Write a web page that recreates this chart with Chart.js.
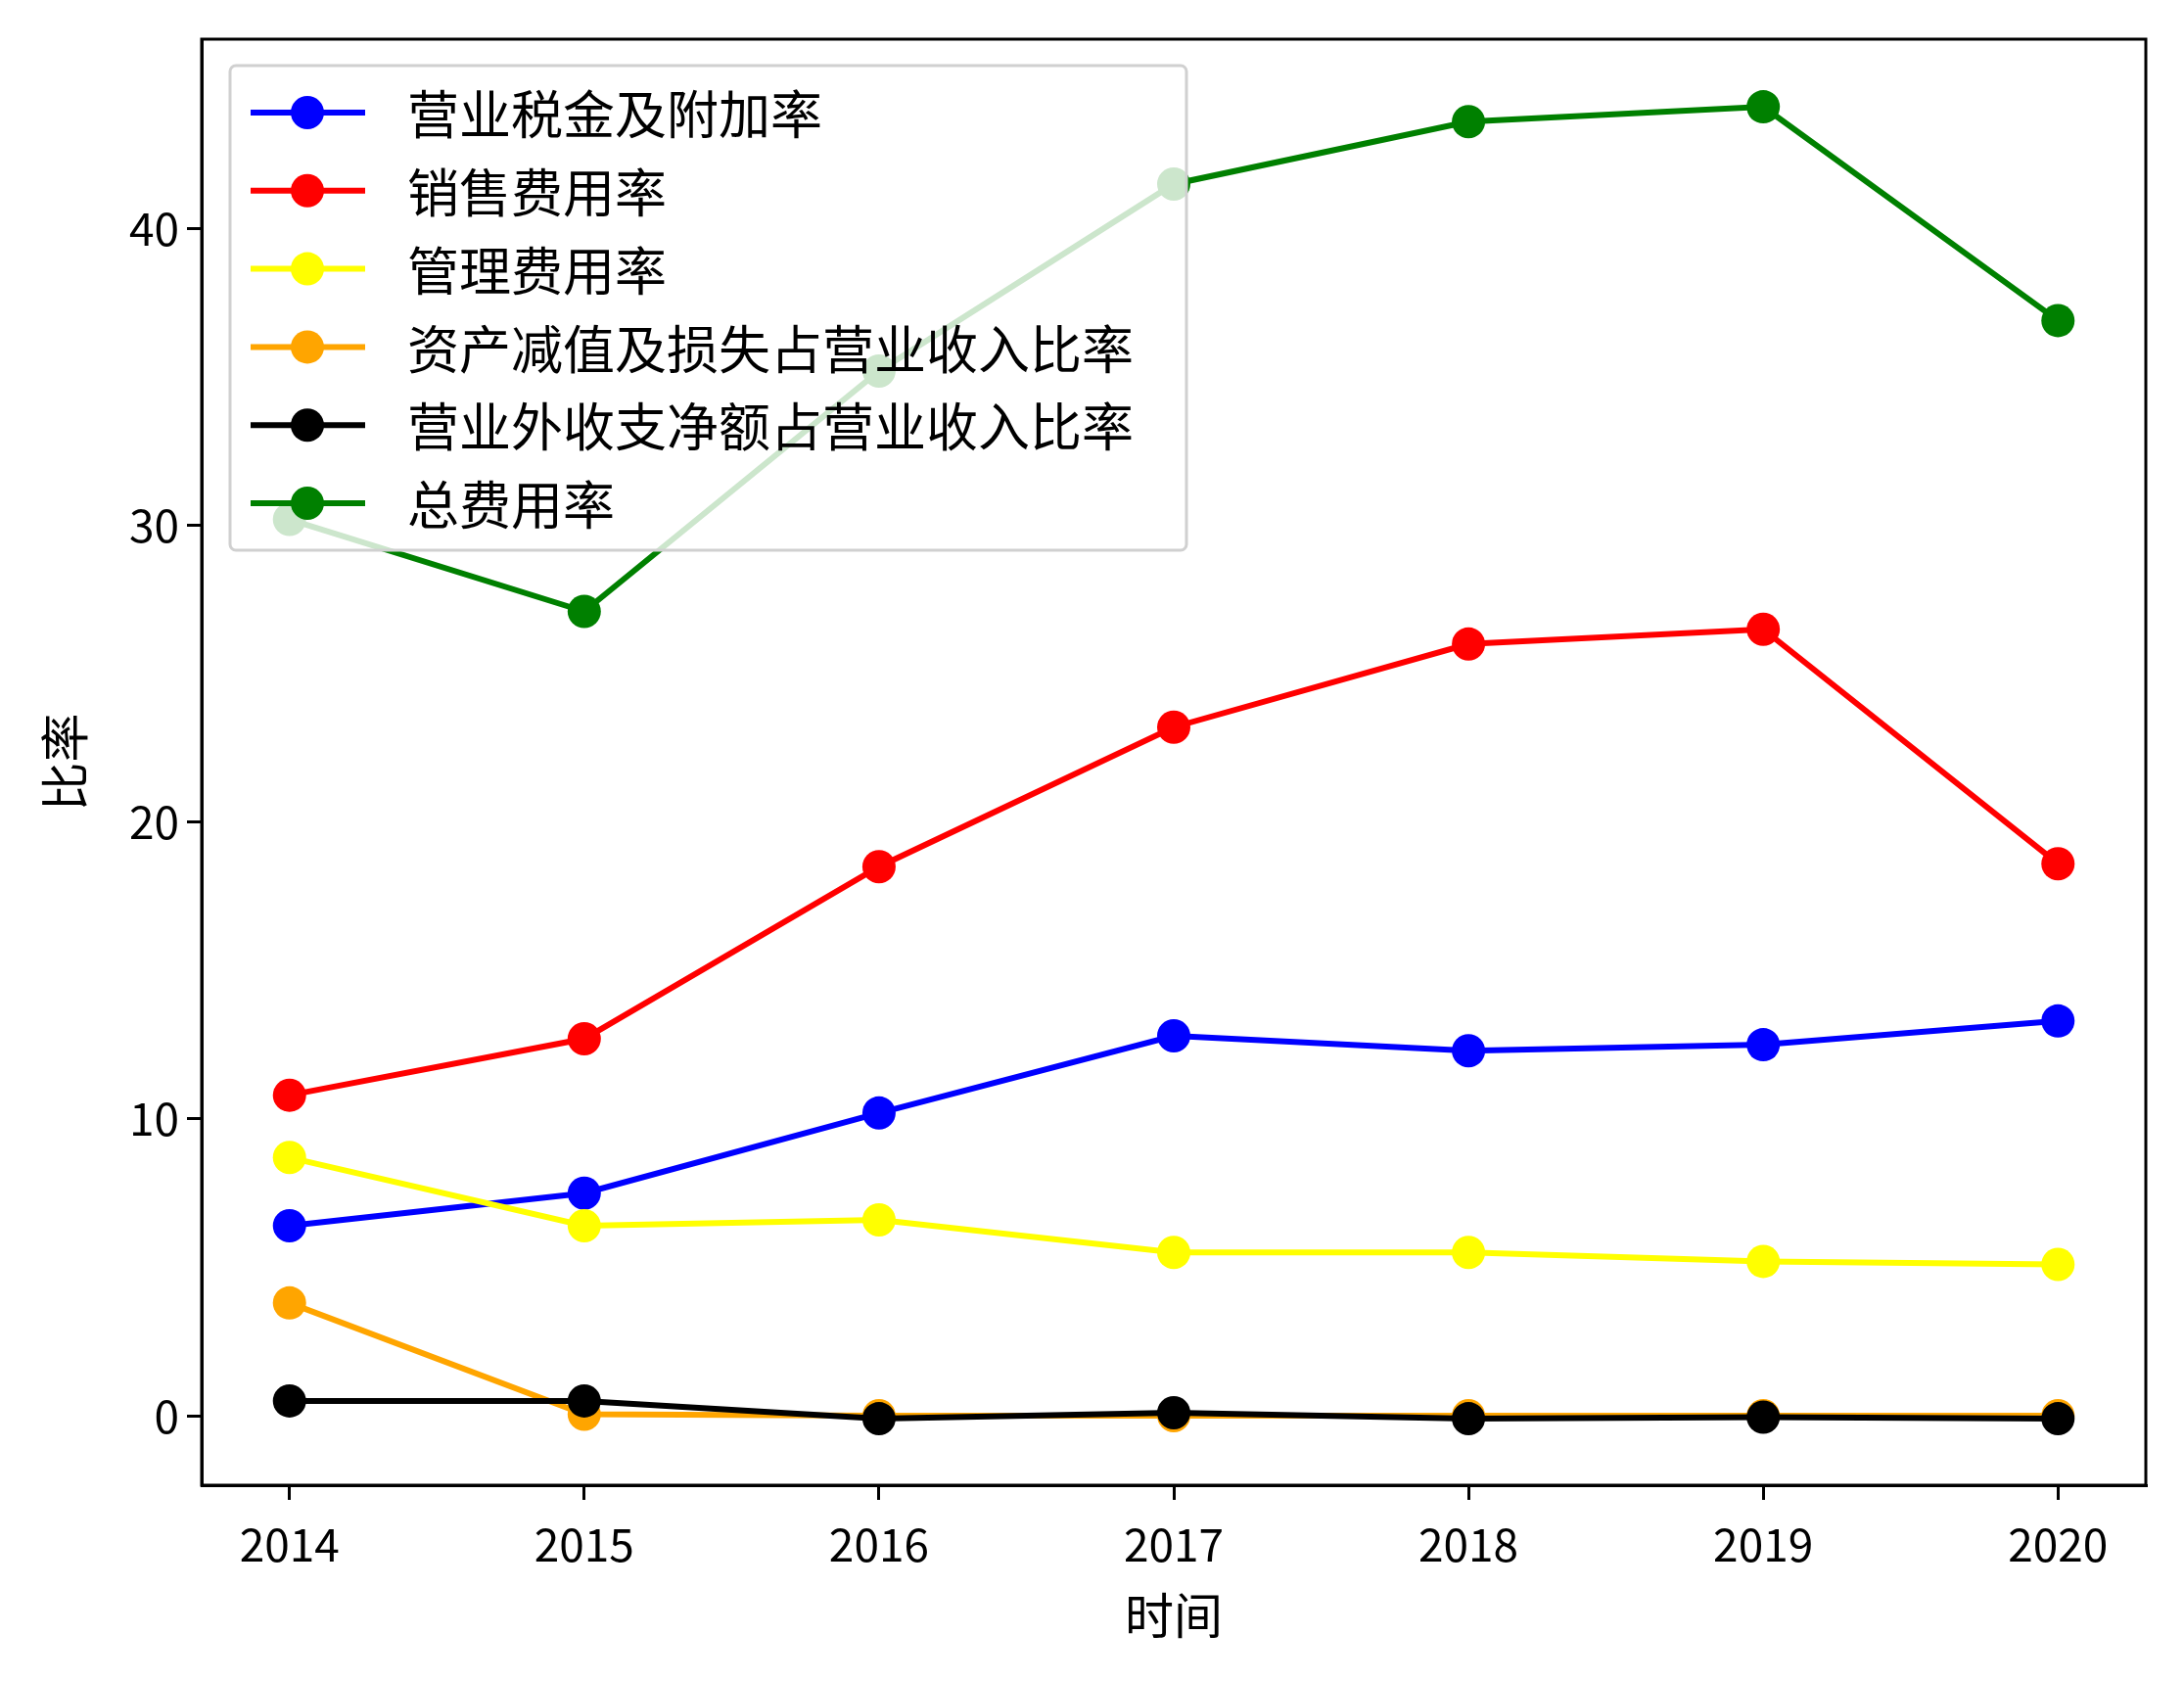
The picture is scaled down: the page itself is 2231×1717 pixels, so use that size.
<!DOCTYPE html>
<html><head><meta charset="utf-8">
<script src="https://cdn.jsdelivr.net/npm/chart.js@4"></script>
<style>html,body{margin:0;padding:0;background:#fff}#w{width:2231px;height:1717px}</style>
</head><body><div id="w"><canvas id="c"></canvas></div>
<script>
const years = [2014, 2015, 2016, 2017, 2018, 2019, 2020];
const seriesNames = ['营业税金及附加率','销售费用率','管理费用率','资产减值及损失占营业收入比率','营业外收支净额占营业收入比率','总费用率'];
const taxRate = [6.4, 7.5, 10.2, 12.8, 12.3, 12.5, 13.3];
const salesRate = [10.8, 12.7, 18.5, 23.2, 26.0, 26.5, 18.6];
const mgmtRate = [8.7, 6.4, 6.6, 5.5, 5.5, 5.2, 5.1];
const impairRate = [3.8, 0.05, 0.0, 0.0, 0.0, 0.0, 0.0];
const nonOpRate = [0.5, 0.5, -0.1, 0.1, -0.1, -0.05, -0.1];
const totalRate = [30.2, 27.1, 35.2, 41.5, 43.6, 44.1, 36.9];
const yTicks = [0, 10, 20, 30, 40];
const colors = ['#0000ff','#ff0000','#ffff00','#ffa500','#000000','#008000'];
const allSeries = [taxRate, salesRate, mgmtRate, impairRate, nonOpRate, totalRate];
const FONT = '"Noto Sans CJK SC", sans-serif';

const datasets = allSeries.map((s,i)=>({
  label: seriesNames[i],
  data: s.map((v,j)=>({x:years[j], y:v})),
  borderColor: colors[i], backgroundColor: colors[i],
  borderWidth: 6, pointRadius: 17, pointHoverRadius: 17, pointBorderWidth: 0,
  order: -i
}));

const frame = {
  id:'frame',
  afterDatasetsDraw(chart){
    const ctx = chart.ctx, a = chart.chartArea;
    ctx.save();
    const x0=235,y0=67,w=977,h=495;
    ctx.globalAlpha=0.8; ctx.fillStyle='#fff';
    ctx.beginPath(); ctx.roundRect(x0,y0,w,h,6); ctx.fill();
    ctx.globalAlpha=1; ctx.strokeStyle='#d0d0d0'; ctx.lineWidth=3; ctx.stroke();
    ctx.font = '53px '+FONT; ctx.textBaseline='middle'; ctx.fillStyle='#000';
    seriesNames.forEach((n,i)=>{
      const yy = 115 + i*79.8;
      ctx.strokeStyle=colors[i]; ctx.lineWidth=6;
      ctx.beginPath(); ctx.moveTo(256,yy); ctx.lineTo(373,yy); ctx.stroke();
      ctx.fillStyle=colors[i]; ctx.beginPath(); ctx.arc(314,yy,17,0,Math.PI*2); ctx.fill();
      ctx.fillStyle='#000'; ctx.fillText(n,416,yy+2);
    });
    ctx.strokeStyle='#000'; ctx.lineWidth=3;
    ctx.strokeRect(a.left,a.top,a.right-a.left,a.bottom-a.top);
    ctx.restore();
  }
};

new Chart(document.getElementById('c'), {
  type:'line',
  data:{datasets},
  options:{
    responsive:true, maintainAspectRatio:false, animation:false,
    devicePixelRatio:1,
    layout:{padding:{left:32,top:40,right:39,bottom:33}},
    plugins:{legend:{display:false}, tooltip:{enabled:false}},
    scales:{
      x:{type:'linear', min:2014-0.298, max:2020+0.298,
        afterBuildTicks(s){ s.ticks = years.map(v=>({value:v})); },
        afterFit(s){ s.height=167; },
        grid:{drawOnChartArea:false, drawTicks:true, tickLength:15, color:'#000', lineWidth:3},
        border:{color:'#000', width:3},
        ticks:{color:'#000', font:{family:FONT, size:46}, padding:18, callback:v=>String(v), maxRotation:0},
        title:{display:true, text:'时间', color:'#000', font:{family:FONT, size:50}, padding:{top:0}}
      },
      y:{min:-2.34, max:46.38,
        afterBuildTicks(s){ s.ticks = yTicks.map(v=>({value:v})); },
        afterFit(s){ s.width=174; },
        grid:{drawOnChartArea:false, drawTicks:true, tickLength:15, color:'#000', lineWidth:3},
        border:{color:'#000', width:3},
        ticks:{color:'#000', font:{family:FONT, size:46}, padding:8},
        title:{display:true, text:'比率', color:'#000', font:{family:FONT, size:50}, padding:{bottom:10}}
      }
    }
  },
  plugins:[frame]
});
</script></body></html>
